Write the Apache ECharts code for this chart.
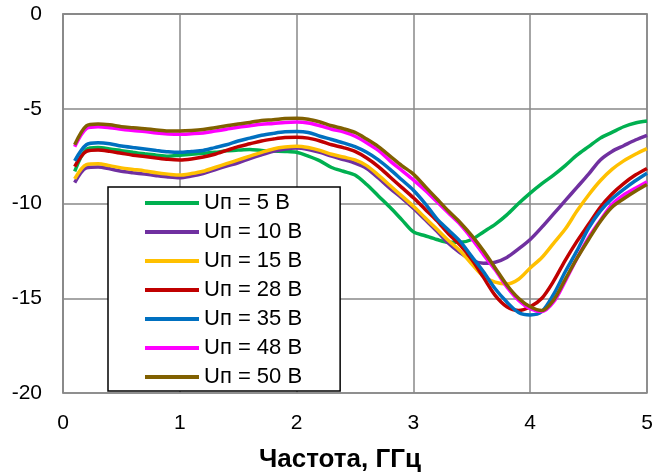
<!DOCTYPE html>
<html>
<head>
<meta charset="utf-8">
<script src="https://cdn.jsdelivr.net/npm/echarts@6/dist/echarts.min.js"></script>
<style>
  html, body { margin: 0; padding: 0; background: #fff; }
  #chart { width: 652px; height: 475px; }
</style>
</head>
<body>
<div id="chart"></div>
<script>
// частота, ГГц
const freq = [
  0.1, 0.2, 0.3, 0.4, 0.5, 0.6, 0.7, 0.8, 0.9, 1.0,
  1.1, 1.2, 1.3, 1.4, 1.5, 1.6, 1.7, 1.8, 1.9, 2.0,
  2.1, 2.2, 2.3, 2.4, 2.5, 2.6, 2.7, 2.8, 2.9, 3.0,
  3.1, 3.2, 3.3, 3.4, 3.5, 3.6, 3.7, 3.8, 3.9, 4.0,
  4.1, 4.2, 4.3, 4.4, 4.5, 4.6, 4.7, 4.8, 4.9, 5.0
]

const seriesNames = ['Uп = 5 В', 'Uп = 10 В', 'Uп = 15 В', 'Uп = 28 В', 'Uп = 35 В', 'Uп = 48 В', 'Uп = 50 В']
const seriesColors = ['#00b050', '#7030a0', '#ffc000', '#c00000', '#0070c0', '#ff00ff', '#806000']

const u5 = [
  -8.3, -7.15, -7.05, -7.12, -7.21, -7.3, -7.38, -7.45, -7.5, -7.45,
  -7.4, -7.35, -7.3, -7.22, -7.18, -7.15, -7.2, -7.23, -7.25, -7.3,
  -7.5, -7.75, -8.1, -8.3, -8.5, -9.0, -9.6, -10.2, -10.85, -11.5,
  -11.7, -11.9, -12.05, -12.05, -11.9, -11.5, -11.1, -10.6, -10.0, -9.45,
  -8.95, -8.5, -8.0, -7.45, -7.0, -6.55, -6.25, -5.95, -5.75, -5.65
]
const u10 = [
  -8.9, -8.12, -8.07, -8.17, -8.3, -8.38, -8.45, -8.53, -8.6, -8.64,
  -8.55, -8.42, -8.22, -8.03, -7.85, -7.63, -7.43, -7.25, -7.12, -7.07,
  -7.15, -7.3, -7.5, -7.68, -7.87, -8.15, -8.65, -9.2, -9.7, -10.25,
  -10.85, -11.45, -12.1, -12.6, -13.0, -13.15, -13.1, -12.85, -12.4, -11.9,
  -11.25, -10.55, -9.85, -9.15, -8.45, -7.7, -7.25, -6.95, -6.65, -6.4
]
const u15 = [
  -8.7, -7.95, -7.9, -8.0, -8.12, -8.2, -8.28, -8.38, -8.45, -8.5,
  -8.42, -8.3, -8.1, -7.9, -7.7, -7.5, -7.3, -7.12, -7.02, -6.98,
  -7.05, -7.2, -7.4, -7.55, -7.7, -8.0, -8.5, -9.05, -9.6, -10.15,
  -10.75, -11.35, -11.95, -12.5, -13.2, -13.85, -14.15, -14.25, -14.0, -13.4,
  -12.85, -12.1, -11.35, -10.4, -9.55, -8.8, -8.2, -7.75, -7.4, -7.1
]
const u28 = [
  -8.05, -7.25, -7.18, -7.25, -7.35, -7.45, -7.52, -7.6, -7.67, -7.7,
  -7.65, -7.55, -7.4, -7.2, -7.0, -6.85, -6.7, -6.6, -6.52, -6.5,
  -6.55, -6.7, -6.9, -7.05, -7.25, -7.6, -8.05, -8.6, -9.15, -9.7,
  -10.3, -10.9, -11.6, -12.2, -12.95, -13.9, -14.85, -15.45, -15.65, -15.45,
  -15.0, -14.1, -13.0, -12.0, -11.1, -10.2, -9.5, -8.95, -8.5, -8.15
]
const u35 = [
  -7.75, -6.9, -6.8, -6.85, -6.97, -7.05, -7.12, -7.2, -7.27, -7.3,
  -7.25, -7.2, -7.05, -6.9, -6.7, -6.55, -6.4, -6.3, -6.22, -6.2,
  -6.25, -6.45, -6.62, -6.8, -7.0, -7.3, -7.7, -8.2, -8.75, -9.3,
  -10.0, -10.8, -11.4, -12.0, -12.8, -13.6, -14.5, -15.2, -15.75, -15.88,
  -15.7, -14.8, -13.6, -12.5, -11.3, -10.4, -9.75, -9.25, -8.8, -8.4
]
const u48 = [
  -7.0, -6.05, -5.95, -6.0, -6.08, -6.15, -6.2, -6.28, -6.33, -6.35,
  -6.32, -6.28, -6.18, -6.08, -5.98, -5.9, -5.82, -5.78, -5.72, -5.7,
  -5.75, -5.9, -6.08, -6.22, -6.45, -6.8, -7.2, -7.75, -8.25, -8.75,
  -9.3, -9.9, -10.5, -11.1, -11.85, -12.7, -13.5, -14.4, -15.1, -15.55,
  -15.7, -15.2, -14.1, -12.9, -11.8, -10.9, -10.05, -9.55, -9.2, -8.85
]
const u50 = [
  -6.9, -5.9, -5.8, -5.85, -5.95, -6.0, -6.05, -6.12, -6.17, -6.17,
  -6.15, -6.1, -6.0, -5.9, -5.8, -5.72, -5.62, -5.58, -5.52, -5.5,
  -5.55, -5.7, -5.9, -6.05, -6.25, -6.6, -7.0, -7.5, -8.0, -8.45,
  -9.1, -9.75, -10.4, -11.0, -11.7, -12.5, -13.4, -14.3, -15.0, -15.45,
  -15.65, -15.1, -14.0, -12.9, -11.9, -10.95, -10.2, -9.75, -9.35, -9.0
]

const allValues = [u5, u10, u15, u28, u35, u48, u50]

const fontFamily = '"Liberation Sans", Arial, sans-serif'
const gridColor = '#888888'

const chart = echarts.init(document.getElementById('chart'), null, { renderer: 'canvas' })

const option = {
  animation: false,
  backgroundColor: '#ffffff',
  grid: {
    left: 63,
    right: 5,
    top: 14,
    bottom: 82,
    outerBoundsMode: 'none',
    containLabel: false,
    show: true,
    borderColor: gridColor,
    borderWidth: 1.5
  },
  legend: {
    orient: 'vertical',
    left: 108,
    top: 187,
    padding: [5, 38, 3, 37],
    backgroundColor: '#ffffff',
    borderColor: '#000000',
    borderWidth: 1.5,
    itemWidth: 54,
    itemHeight: 14,
    itemGap: 7,
    icon: 'path://M0,5 L54,5 L54,9 L0,9 Z',
    textStyle: {
      color: '#000',
      fontSize: 22,
      lineHeight: 22,
      fontFamily: fontFamily
    },
    data: seriesNames
  },
  xAxis: {
    type: 'value',
    min: 0,
    max: 5,
    interval: 1,
    name: 'Частота, ГГц',
    nameLocation: 'middle',
    nameGap: 54,
    nameTextStyle: {
      color: '#000',
      fontSize: 26,
      fontWeight: 'bold',
      fontFamily: fontFamily,
      padding: [0, 30, 0, 0]
    },
    axisLine: { show: true, lineStyle: { color: gridColor, width: 1.5 } },
    axisTick: { show: false },
    axisLabel: { color: '#000', fontSize: 21, fontFamily: fontFamily, margin: 20 },
    splitLine: { show: true, lineStyle: { color: gridColor, width: 1.5 } }
  },
  yAxis: {
    type: 'value',
    min: -20,
    max: 0,
    interval: 5,
    axisLine: { show: true, lineStyle: { color: gridColor, width: 1.5 } },
    axisTick: { show: false },
    axisLabel: { color: '#000', fontSize: 21, fontFamily: fontFamily, margin: 21 },
    splitLine: { show: true, lineStyle: { color: gridColor, width: 1.5 } }
  },
  series: seriesNames.map((name, i) => ({
    name: name,
    type: 'line',
    smooth: 0.3,
    showSymbol: false,
    symbol: 'none',
    color: seriesColors[i],
    lineStyle: { color: seriesColors[i], width: 3.5 },
    data: freq.map((f, j) => [f, allValues[i][j]])
  }))
}

chart.setOption(option)
</script>
</body>
</html>
